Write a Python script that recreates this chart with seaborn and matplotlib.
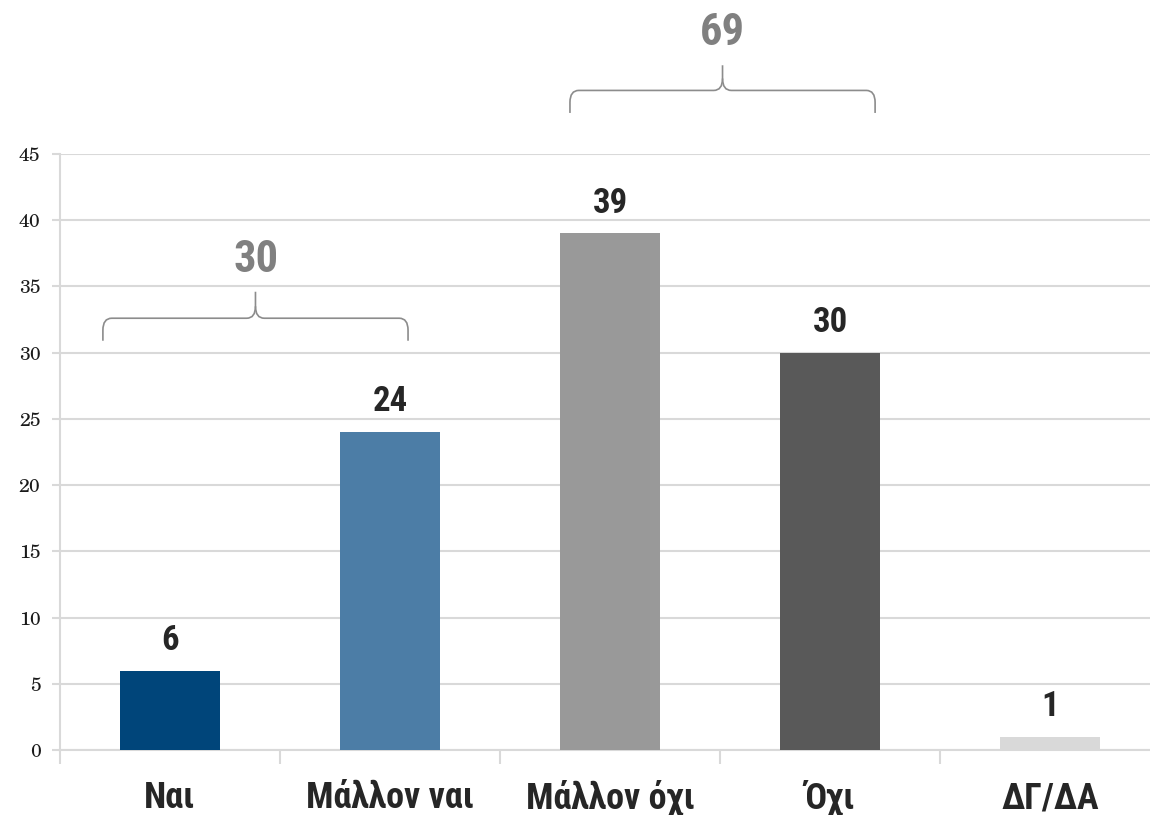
import matplotlib
matplotlib.use("Agg")
import matplotlib.pyplot as plt
from matplotlib.path import Path
from matplotlib.patches import PathPatch
from matplotlib.ticker import FixedLocator
import pandas as pd
import seaborn as sns

categories = ["Ναι", "Μάλλον ναι", "Μάλλον όχι", "Όχι", "ΔΓ/ΔΑ"]
values = [6, 24, 39, 30, 1]
colors = ["#00457A", "#4C7DA6", "#999999", "#595959", "#D9D9D9"]
y_ticks = [0, 5, 10, 15, 20, 25, 30, 35, 40, 45]
group_totals = [30, 69]

sns.set_theme(style="white")
NARROW = ["Roboto Condensed", "DejaVu Sans"]
SERIF = ["TeX Gyre Schola", "DejaVu Serif"]
GRID = "#D9D9D9"
BRACE = "#8C8C8C"

df = pd.DataFrame({"category": categories, "value": values})

fig = plt.figure(figsize=(11.5, 8.15), dpi=100)
ax = fig.add_axes([60 / 1150, 65 / 815, 1100 / 1150, 596 / 815])

sns.barplot(data=df, x="category", y="value", hue="category", palette=colors,
            width=0.455, legend=False, ax=ax, saturation=1, linewidth=0, zorder=3)

ax.set_ylim(0, 45)
ax.set_xlim(-0.5, 4.5)
ax.set_yticks(y_ticks)
ax.set_yticklabels([str(t) for t in y_ticks], family=SERIF, fontsize=14, color="#1A1A1A")
ax.yaxis.grid(True, color=GRID, linewidth=1.5, zorder=0)
ax.set_axisbelow(True)
ax.set_xlabel("")
ax.set_ylabel("")

for s in ["top", "right"]:
    ax.spines[s].set_visible(False)
ax.spines["left"].set_color(GRID)
ax.spines["left"].set_linewidth(1.5)
ax.spines["bottom"].set_color(GRID)
ax.spines["bottom"].set_linewidth(1.5)

ax.tick_params(axis="y", left=True, length=6, width=1.5, color=GRID, pad=8)
ax.tick_params(axis="x", which="major", length=0, pad=42)
ax.xaxis.set_minor_locator(FixedLocator([i - 0.5 for i in range(len(categories) + 1)]))
ax.tick_params(axis="x", which="minor", bottom=True, length=10, width=1.5, color=GRID)
for lab in ax.get_xticklabels():
    lab.set_family(NARROW)
    lab.set_fontsize(26)
    lab.set_fontweight("bold")
    lab.set_color("#262626")
    lab.set_verticalalignment("baseline")

for i, v in enumerate(values):
    ax.annotate(str(v), (i, v), xytext=(0, 10), textcoords="offset points",
                ha="center", va="bottom", family=NARROW, fontsize=25,
                fontweight="bold", color="#262626")


def brace(ax, x0, x1, y_end, y_mid, y_tip, rx=0.04, ry=0.9):
    xc = (x0 + x1) / 2
    verts = [
        (x0, y_end), (x0, y_mid - ry),
        (x0, y_mid), (x0 + rx, y_mid),
        (xc - rx, y_mid),
        (xc, y_mid), (xc, y_mid + ry),
        (xc, y_tip),
    ]
    codes = [Path.MOVETO, Path.LINETO, Path.CURVE3, Path.CURVE3, Path.LINETO,
             Path.CURVE3, Path.CURVE3, Path.LINETO]
    verts2 = [
        (x1, y_end), (x1, y_mid - ry),
        (x1, y_mid), (x1 - rx, y_mid),
        (xc + rx, y_mid),
        (xc, y_mid), (xc, y_mid + ry),
    ]
    codes2 = [Path.MOVETO, Path.LINETO, Path.CURVE3, Path.CURVE3, Path.LINETO,
              Path.CURVE3, Path.CURVE3]
    for vv, cc in [(verts, codes), (verts2, codes2)]:
        ax.add_patch(PathPatch(Path(vv, cc), fill=False, edgecolor=BRACE,
                               linewidth=1.2, clip_on=False, zorder=4))


brace(ax, -0.305, 1.082, 30.9, 32.6, 34.6)
ax.text(0.39, 37.0, str(group_totals[0]), ha="center", va="center", family=NARROW,
        fontsize=32, fontweight="bold", color="#808080")
brace(ax, 1.818, 3.205, 48.1, 49.8, 51.7)
ax.text(2.51, 54.15, str(group_totals[1]), ha="center", va="center", family=NARROW,
        fontsize=32, fontweight="bold", color="#808080", clip_on=False)

fig.savefig("out.png", dpi=100)
